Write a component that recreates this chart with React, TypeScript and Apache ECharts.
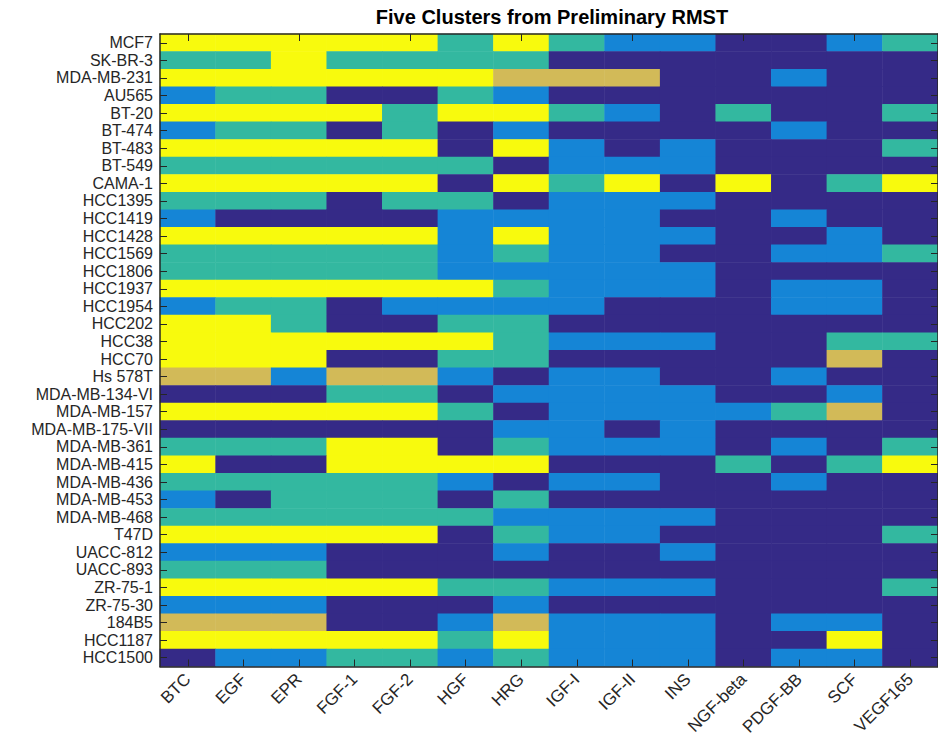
import React, { useEffect, useRef } from "react";
import * as echarts from "echarts";

const growthFactors = ["BTC", "EGF", "EPR", "FGF-1", "FGF-2", "HGF", "HRG", "IGF-I", "IGF-II", "INS", "NGF-beta", "PDGF-BB", "SCF", "VEGF165"];

const cellLines = [
  "MCF7", "SK-BR-3", "MDA-MB-231", "AU565", "BT-20", "BT-474", "BT-483", "BT-549", "CAMA-1",
  "HCC1395", "HCC1419", "HCC1428", "HCC1569", "HCC1806", "HCC1937", "HCC1954", "HCC202", "HCC38",
  "HCC70", "Hs 578T", "MDA-MB-134-VI", "MDA-MB-157", "MDA-MB-175-VII", "MDA-MB-361", "MDA-MB-415",
  "MDA-MB-436", "MDA-MB-453", "MDA-MB-468", "T47D", "UACC-812", "UACC-893", "ZR-75-1", "ZR-75-30",
  "184B5", "HCC1187", "HCC1500",
];

// cluster index (1..5) per cell line, one value per growth factor
const clusters: number[][] = [
  [5, 5, 5, 5, 5, 3, 5, 3, 2, 2, 1, 1, 2, 3],
  [3, 3, 5, 3, 3, 3, 3, 1, 1, 1, 1, 1, 1, 1],
  [5, 5, 5, 5, 5, 5, 4, 4, 4, 1, 1, 2, 1, 1],
  [2, 3, 3, 1, 1, 3, 2, 1, 1, 1, 1, 1, 1, 1],
  [5, 5, 5, 5, 3, 5, 5, 3, 2, 1, 3, 1, 1, 3],
  [2, 3, 3, 1, 3, 1, 2, 1, 1, 1, 1, 2, 1, 1],
  [5, 5, 5, 5, 5, 1, 5, 2, 1, 2, 1, 1, 1, 3],
  [3, 3, 3, 3, 3, 3, 1, 2, 2, 2, 1, 1, 1, 1],
  [5, 5, 5, 5, 5, 1, 5, 3, 5, 1, 5, 1, 3, 5],
  [3, 3, 3, 1, 3, 3, 1, 2, 2, 2, 1, 1, 1, 1],
  [2, 1, 1, 1, 1, 2, 2, 2, 2, 1, 1, 2, 1, 1],
  [5, 5, 5, 5, 5, 2, 5, 2, 2, 2, 1, 1, 2, 1],
  [3, 3, 3, 3, 3, 2, 3, 2, 2, 1, 1, 2, 2, 3],
  [3, 3, 3, 3, 3, 2, 2, 2, 2, 2, 1, 1, 1, 1],
  [5, 5, 5, 5, 5, 5, 3, 2, 2, 2, 1, 2, 2, 1],
  [2, 3, 3, 1, 2, 2, 2, 2, 1, 1, 1, 2, 2, 1],
  [5, 5, 3, 1, 1, 3, 3, 1, 1, 1, 1, 1, 1, 1],
  [5, 5, 5, 5, 5, 5, 3, 2, 2, 2, 1, 1, 3, 3],
  [5, 5, 5, 1, 1, 3, 3, 1, 1, 1, 1, 1, 4, 1],
  [4, 4, 2, 4, 4, 2, 1, 2, 2, 1, 1, 2, 1, 1],
  [1, 1, 1, 3, 3, 1, 2, 2, 2, 2, 1, 1, 2, 1],
  [5, 5, 5, 5, 5, 3, 1, 2, 2, 2, 2, 3, 4, 1],
  [1, 1, 1, 1, 1, 1, 2, 2, 1, 2, 1, 1, 1, 1],
  [3, 3, 3, 5, 5, 1, 3, 2, 2, 2, 1, 2, 1, 3],
  [5, 1, 1, 5, 5, 5, 5, 1, 1, 1, 3, 1, 3, 5],
  [3, 3, 3, 3, 3, 2, 1, 2, 2, 1, 1, 2, 1, 1],
  [2, 1, 3, 3, 3, 1, 3, 1, 1, 1, 1, 1, 1, 1],
  [3, 3, 3, 3, 3, 3, 2, 2, 2, 2, 1, 1, 1, 1],
  [5, 5, 5, 5, 5, 1, 3, 2, 2, 1, 1, 1, 1, 3],
  [2, 2, 2, 1, 1, 1, 2, 1, 1, 2, 1, 1, 1, 1],
  [3, 3, 3, 1, 1, 1, 1, 1, 1, 1, 1, 1, 1, 1],
  [5, 5, 5, 5, 5, 3, 3, 2, 2, 2, 1, 1, 1, 3],
  [2, 2, 2, 1, 1, 1, 2, 1, 1, 1, 1, 1, 1, 1],
  [4, 4, 4, 1, 1, 2, 4, 2, 2, 2, 1, 2, 2, 1],
  [5, 5, 5, 5, 5, 3, 5, 2, 2, 2, 1, 1, 5, 1],
  [1, 2, 2, 3, 3, 2, 3, 2, 2, 2, 1, 2, 2, 1],
];

const clusterValues = [1, 2, 3, 4, 5];
const clusterColors = ["#352a87", "#1585d6", "#33b8a0", "#d2ba58", "#f8fa0d"];

const chartTitle = "Five Clusters from Preliminary RMST";

export default function App() {
  const ref = useRef<HTMLDivElement>(null);

  useEffect(() => {
    if (!ref.current) return;
    const chart = echarts.init(ref.current, null, { renderer: "svg" });
    const data: number[][] = [];
    clusters.forEach((row, r) => row.forEach((v, c) => data.push([c, r, v])));

    const font = "'Liberation Sans', Arial, Helvetica, sans-serif";
    const axisColor = "#262626";
    const gridLeft = 160;
    const gridWidth = 784;

    const lineStyle = { color: axisColor, width: 1.5 };
    const tick = () => ({ show: true, inside: true, length: 7, alignWithLabel: true, lineStyle: { color: axisColor, width: 1 } });

    chart.setOption({
      animation: false,
      backgroundColor: "#ffffff",
      graphic: [
        {
          type: "text",
          x: gridLeft + gridWidth / 2,
          y: 17,
          style: {
            text: chartTitle,
            textAlign: "center",
            textVerticalAlign: "middle",
            font: `bold 20px ${font}`,
            fill: "#000000",
          },
        },
      ],
      grid: { left: gridLeft, top: 34, width: gridWidth, height: 632.5 },
      visualMap: {
        type: "piecewise",
        show: false,
        dimension: 2,
        pieces: clusterValues.map((v, i) => ({ value: v, color: clusterColors[i] })),
      },
      xAxis: [
        {
          type: "category",
          data: growthFactors,
          position: "bottom",
          axisLine: { show: true, lineStyle },
          axisTick: tick(),
          splitLine: { show: false },
          axisLabel: {
            interval: 0,
            rotate: 45,
            margin: 10,
            fontSize: 17,
            fontFamily: font,
            color: axisColor,
          },
          z: 10,
        },
        {
          type: "category",
          data: growthFactors,
          position: "top",
          axisLine: { show: true, lineStyle },
          axisTick: tick(),
          axisLabel: { show: false },
          splitLine: { show: false },
          z: 10,
        },
      ],
      yAxis: [
        {
          type: "category",
          data: cellLines,
          inverse: true,
          position: "left",
          axisLine: { show: true, lineStyle },
          axisTick: tick(),
          splitLine: { show: false },
          axisLabel: {
            interval: 0,
            margin: 7,
            fontSize: 16,
            fontFamily: font,
            color: axisColor,
          },
          z: 10,
        },
        {
          type: "category",
          data: cellLines,
          inverse: true,
          position: "right",
          axisLine: { show: true, lineStyle },
          axisTick: tick(),
          axisLabel: { show: false },
          splitLine: { show: false },
          z: 10,
        },
      ],
      series: [
        {
          type: "heatmap",
          xAxisIndex: 0,
          yAxisIndex: 0,
          data,
          itemStyle: { borderWidth: 0 },
          emphasis: { disabled: true },
        },
      ],
    });
    return () => chart.dispose();
  }, []);

  return (
    <div
      ref={ref}
      style={{ position: "fixed", left: 0, top: 0, width: 938, height: 743 }}
    />
  );
}
